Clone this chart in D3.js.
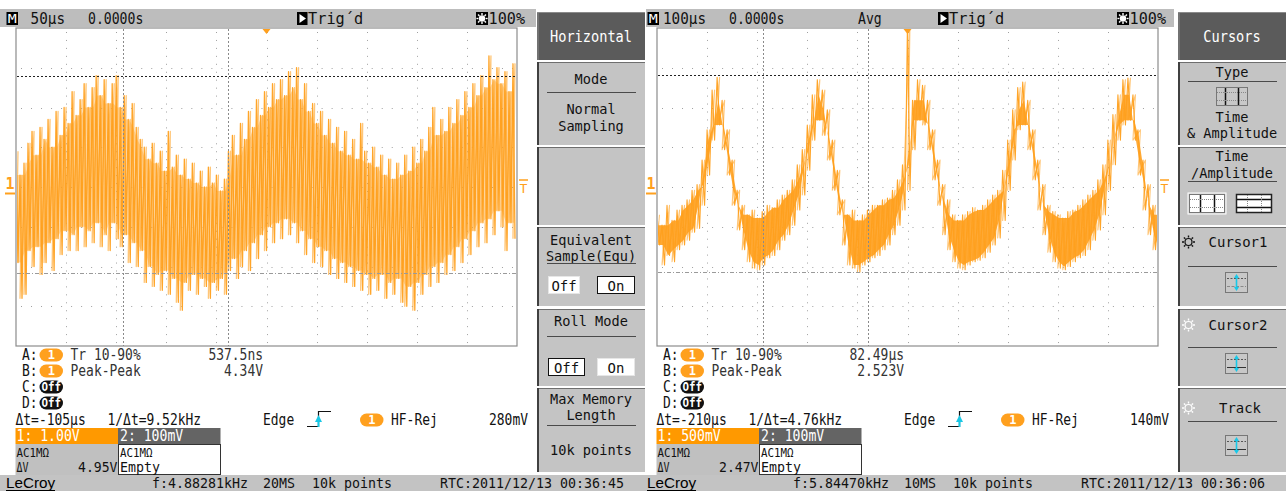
<!DOCTYPE html>
<html>
<head>
<meta charset="utf-8">
<script src="https://cdn.jsdelivr.net/npm/d3@7"></script>
<style>
  html, body { margin: 0; padding: 0; background: #fff; overflow: hidden; }
  svg { display: block; }
</style>
</head>
<body>
<svg id="chart" width="1286" height="491"></svg>
<script>
// CH1 left screen: upper / lower spike of each 4 µs bin, volts (1 V/div)
const leftHi = [0.9,0.3,0.6,1.1,1.4,0.8,1.5,1.2,1.7,1.0, 1.9,1.3,2.0,1.6,2.4,1.8,2.2,2.6,2.0,2.5,
  2.8,2.3,2.7,2.1,2.6,2.8,2.0,2.3,1.7,2.1, 1.5,1.2,1.0,0.7,1.1,0.6,0.9,0.4,1.4,0.5,
  0.8,0.3,0.7,0.2,0.6,0.1,0.4,0.0,0.5,0.1, 0.3,-0.1,0.2,0.9,1.3,0.8,1.6,1.2,1.9,1.5,
  2.2,1.8,2.4,2.0,2.6,2.2,2.7,2.3,2.9,2.5, 3.0,2.2,2.6,1.9,2.1,1.6,1.9,1.3,1.7,1.1,
  1.5,0.9,1.4,0.8,1.2,0.7,1.6,0.9,0.6,1.0, 0.5,0.8,0.3,0.7,0.2,0.6,0.3,0.8,0.4,1.0,
  0.6,1.2,0.9,1.5,2.0,1.3,1.7,1.4,2.0,1.6, 2.2,1.8,2.4,2.0,2.6,2.3,2.8,2.5,3.3,2.7,
  3.0,2.6,2.9,2.4,3.1];
const leftLo = [-1.9,-2.8,-2.7,-1.6,-2.0,-1.5,-2.2,-1.9,-1.4,-2.1, -1.3,-1.7,-1.1,-1.6,-1.2,-1.6,-1.0,-1.5,-1.1,-1.4,
  -0.9,-1.5,-1.2,-1.6,-0.9,-1.3,-1.5,-1.2,-1.9,-1.4, -2.0,-1.6,-2.4,-2.0,-2.5,-2.2,-2.6,-2.1,-2.7,-2.3,
  -2.9,-3.1,-2.4,-2.6,-2.2,-2.7,-2.3,-2.5,-2.8,-2.4, -2.6,-2.3,-2.7,-2.1,-1.8,-2.3,-2.0,-1.6,-2.1,-1.4,
  -1.8,-1.2,-1.6,-1.0,-1.4,-0.9,-1.3,-0.8,-1.2,-0.9, -1.4,-1.1,-1.7,-1.3,-1.9,-1.5,-2.0,-1.6,-2.2,-1.8,
  -2.3,-1.9,-2.4,-2.0,-2.5,-2.1,-2.6,-2.2,-2.7,-2.3, -2.6,-2.2,-2.8,-2.4,-2.7,-2.3,-2.9,-3.0,-2.5,-3.1,
  -2.4,-2.7,-2.2,-2.5,-2.0,-2.4,-1.9,-2.2,-1.7,-2.1, -1.5,-1.9,-1.3,-1.7,-1.1,-1.5,-0.9,-1.4,-0.8,-1.2,
  -0.6,-1.0,-1.6,-0.9,-1.3];

// CH1 right screen: upper / lower edge of each 10 µs bin, volts (500 mV/div)
const rightHi = [-0.35,-0.48,-0.23,-0.42,-0.29,-0.23,-0.16,-0.04,0.03,0.34, 0.72,1.22,1.38,1.09,0.72,0.34,-0.04,-0.23,-0.35,-0.29,
  -0.39,-0.31,-0.23,-0.26,-0.16,-0.10,-0.04,0.09,0.28,0.47, 0.78,1.16,1.35,1.22,0.97,0.59,0.21,-0.16,-0.35,-0.29,
  -0.42,-0.35,-0.29,-0.23,-0.23,-0.16,-0.14,-0.04,0.09,0.28, 2.1,1.09,1.35,1.28,1.09,0.72,0.34,0.03,-0.16,-0.35,
  -0.42,-0.35,-0.31,-0.26,-0.29,-0.23,-0.16,-0.10,-0.04,0.21, 0.59,0.97,1.25,1.32,1.09,0.72,0.34,0.03,-0.23,-0.31,
  -0.35,-0.39,-0.31,-0.29,-0.23,-0.16,-0.10,-0.04,0.09,0.28, 0.59,0.91,1.16,1.35,1.37,1.16,0.72,0.34,0.03,-0.23,
  -0.35];
const rightLo = [-0.73,-0.98,-0.86,-0.94,-0.79,-0.73,-0.67,-0.57,-0.52,-0.23, 0.15,0.59,0.78,0.47,0.15,-0.23,-0.54,-0.79,-0.94,-1.02,
  -1.04,-0.98,-0.89,-0.86,-0.79,-0.67,-0.60,-0.48,-0.29,-0.10, 0.21,0.59,0.84,0.65,0.34,-0.04,-0.35,-0.73,-0.98,-1.02,
  -1.07,-0.98,-0.94,-0.89,-0.86,-0.79,-0.73,-0.60,-0.48,-0.29, -0.04,0.47,0.84,0.78,0.47,0.09,-0.23,-0.60,-0.79,-0.94,
  -1.02,-1.04,-0.98,-0.94,-0.92,-0.89,-0.82,-0.73,-0.64,-0.42, -0.04,0.34,0.72,0.78,0.47,0.09,-0.29,-0.60,-0.82,-0.94,
  -1.02,-1.04,-1.00,-0.94,-0.89,-0.86,-0.79,-0.67,-0.54,-0.35, -0.04,0.28,0.59,0.78,0.84,0.59,0.15,-0.29,-0.60,-0.79,
  -0.92];

// timebase / scale per screen
const tDiv = [50, 100];          // µs per division
const vDiv = [1, 0.5];           // V per division
const binT = [4, 10];            // µs per data bin
const vCursorT = [[-143, -38], [-288, -78]];   // µs
const hCursorV = [[2.79, -2.16], [1.41, -1.07]]; // V

// screen texts
const tbDiv = ["50µs", "100µs"];
const tbDelay = ["0.0000s", "0.0000s"];
const acqMode = ["", "Avg"];
const measLabel = ["Tr 10-90%", "Peak-Peak"];
const measVal = [["537.5ns", "4.34V"], ["82.49µs", "2.523V"]];
const deltaT = ["Δt=-105µs", "Δt=-210µs"];
const invDeltaT = ["1/Δt=9.52kHz", "1/Δt=4.76kHz"];
const trigLevel = ["280mV", "140mV"];
const ch1Scale = ["1: 1.00V", "1: 500mV"];
const deltaV = ["4.95V", "2.47V"];
const freq = ["f:4.88281kHz", "f:5.84470kHz"];
const sampleRate = ["20MS", "10MS"];
const rtc = ["RTC:2011/12/13 00:36:45", "RTC:2011/12/13 00:36:06"];

// ---------- drawing ----------
const ORANGE = "#ffa01e";
const svg = d3.select("#chart");
const screenX = [0, 641];
const barStart = [0, 5], barEnd = [536, 533];
const P = { x0: 16, x1: 517, y0: 28, y1: 346 };

function txt(g, x, y, s, o = {}) {
  const t = g.append("text")
    .attr("x", x).attr("y", y)
    .attr("font-family", o.family || "'DejaVu Sans Mono', monospace")
    .attr("font-size", o.size || 15)
    .attr("font-weight", o.weight || "normal")
    .attr("fill", o.fill || "#111")
    .attr("text-anchor", o.anchor || "start")
    .attr("dominant-baseline", "central")
    .text(s);
  const w = o.w === undefined ? 7.8 : o.w;
  if (w) t.attr("textLength", s.length * w).attr("lengthAdjust", "spacingAndGlyphs");
  return t;
}

function sun(g, cx, cy, r, col, fill) {
  g.append("circle").attr("cx", cx).attr("cy", cy).attr("r", r)
    .attr("fill", fill).attr("stroke", col).attr("stroke-width", 1.2);
  for (let a = 0; a < 8; a++) {
    const an = a * Math.PI / 4;
    g.append("line")
      .attr("x1", cx + Math.cos(an) * (r + 1)).attr("y1", cy + Math.sin(an) * (r + 1))
      .attr("x2", cx + Math.cos(an) * (r + 3)).attr("y2", cy + Math.sin(an) * (r + 3))
      .attr("stroke", col).attr("stroke-width", 1.4);
  }
}

function pill(g, x, cy, fill, label) {
  g.append("rect").attr("x", x).attr("y", cy - 6.5).attr("width", 23.5).attr("height", 13)
    .attr("rx", 6.5).attr("fill", fill);
  txt(g, x + 11.75, cy, label, { fill: "#fff", size: 12, weight: "bold", anchor: "middle", w: label.length > 1 ? 6.5 : 0 });
}

function drawScreen(k) {
  const g = svg.append("g").attr("transform", `translate(${screenX[k]},0)`);

  // top status bar
  g.append("rect").attr("x", barStart[k]).attr("y", 9).attr("width", barEnd[k] - barStart[k])
    .attr("height", 18).attr("fill", "#bdbdbd");
  g.append("rect").attr("x", 6.5).attr("y", 12).attr("width", 11.5).attr("height", 13).attr("fill", "#000");
  txt(g, 12.3, 18.5, "M", { fill: "#fff", size: 13, anchor: "middle", w: 9 });
  txt(g, 65, 18, tbDiv[k], { size: 16, anchor: "end", w: 8.6 });
  txt(g, 88, 18, tbDelay[k], { size: 16, w: 7.9 });
  if (acqMode[k]) txt(g, 217, 18, acqMode[k], { size: 16, w: 7.9 });
  g.append("rect").attr("x", 297).attr("y", 12).attr("width", 10.5).attr("height", 13).attr("fill", "#000");
  g.append("path").attr("d", "M299.5,14 L306,18.5 L299.5,23 Z").attr("fill", "#fff");
  txt(g, 308, 18, "Trig´d", { size: 16, w: 9.2 });
  g.append("rect").attr("x", 476).attr("y", 12).attr("width", 12).attr("height", 13).attr("fill", "#000");
  sun(g, 482, 18.5, 2.6, "#fff", "#fff");
  txt(g, 525, 18, "100%", { size: 16, anchor: "end", w: 9.1 });

  // plot area
  const x = d3.scaleLinear().domain([-5 * tDiv[k], 5 * tDiv[k]]).range([P.x0, P.x1]);
  const y = d3.scaleLinear().domain([-4 * vDiv[k], 4 * vDiv[k]]).range([P.y1, P.y0]);

  g.append("rect").attr("x", P.x0).attr("y", P.y0).attr("width", P.x1 - P.x0).attr("height", P.y1 - P.y0)
    .attr("fill", "#fff").attr("stroke", "#8c8c8c").attr("stroke-width", 1.2);

  // dotted graticule
  const grid = g.append("g").attr("stroke", "#a0a0a0").attr("stroke-width", 1);
  d3.range(-4, 5).forEach(d => {
    const xx = Math.round(x(d * tDiv[k])) + 0.5;
    grid.append("line").attr("x1", xx).attr("x2", xx).attr("y1", P.y0 + 4).attr("y2", P.y1)
      .attr("stroke-dasharray", "1,6.95");
  });
  d3.range(-3, 4).forEach(d => {
    const yy = Math.round(y(d * vDiv[k])) + 0.5;
    grid.append("line").attr("x1", P.x0 + 5).attr("x2", P.x1).attr("y1", yy).attr("y2", yy)
      .attr("stroke-dasharray", "1,9.02");
  });

  // trace: a dense core between neighbouring readings, then the spikes themselves
  const clipId = "clip" + k;
  g.append("clipPath").attr("id", clipId).append("rect")
    .attr("x", P.x0 + 1).attr("y", P.y0 + 1).attr("width", P.x1 - P.x0 - 2).attr("height", P.y1 - P.y0 - 2);
  const hi = k === 0 ? leftHi : rightHi, lo = k === 0 ? leftLo : rightLo;
  const t0 = -5 * tDiv[k], half = binT[k] / 2;
  const tr = g.append("g").attr("clip-path", `url(#${clipId})`);

  const core = hi.map((h, i) => {
    const a = Math.max(0, i - 1), b = Math.min(hi.length, i + 2);
    return { t: t0 + i * binT[k] + half / 2, top: d3.min(hi.slice(a, b)), bot: d3.max(lo.slice(a, b)) };
  });
  const area = d3.area().x(d => x(d.t)).y0(d => y(d.bot)).y1(d => y(d.top));
  tr.append("path").datum(core).attr("d", area).attr("fill", ORANGE).attr("opacity", k === 0 ? 0.4 : 0.9);

  const ptsA = [], ptsB = [];
  hi.forEach((h, i) => {
    const t = t0 + i * binT[k];
    ptsA.push([t, h], [t + half, lo[i]]);
    ptsB.push([t + half, h], [t, lo[i]]);
  });
  const line = d3.line().x(d => x(d[0])).y(d => y(d[1]));
  [ptsA, ptsB].forEach((pts, j) => {
    tr.append("path").datum(pts).attr("d", line)
      .attr("fill", "none").attr("stroke", ORANGE).attr("stroke-width", k === 0 ? 1.3 : 1.1)
      .attr("stroke-linejoin", "round").attr("opacity", j ? 0.6 : 0.95);
  });

  // cursors
  vCursorT[k].forEach(t => {
    const xx = Math.round(x(t)) + 0.5;
    g.append("line").attr("x1", xx).attr("x2", xx).attr("y1", P.y0 + 1).attr("y2", P.y1)
      .attr("stroke", "#8a8a8a").attr("stroke-width", 1).attr("stroke-dasharray", "2,2");
  });
  const hc = hCursorV[k];
  const yA = Math.round(y(hc[0])) + 0.5, yB = Math.round(y(hc[1])) + 0.5;
  g.append("line").attr("x1", P.x0 + 1).attr("x2", P.x1).attr("y1", yA).attr("y2", yA)
    .attr("stroke", "#222").attr("stroke-width", 1).attr("stroke-dasharray", "2,2");
  g.append("line").attr("x1", P.x0 + 1).attr("x2", P.x1).attr("y1", yB).attr("y2", yB)
    .attr("stroke", "#9a9a9a").attr("stroke-width", 1.2).attr("stroke-dasharray", "4,2,1,2");

  // markers
  const xt = x(0);
  g.append("path").attr("d", `M${xt - 4},29 L${xt + 4},29 L${xt},34 Z`).attr("fill", ORANGE);
  txt(g, 10, 184, "1", { fill: ORANGE, size: 15, weight: "bold", anchor: "middle", w: 0 });
  g.append("line").attr("x1", 5).attr("x2", 15).attr("y1", 193.5).attr("y2", 193.5).attr("stroke", ORANGE).attr("stroke-width", 2);
  g.append("line").attr("x1", 519).attr("x2", 528).attr("y1", 180).attr("y2", 180).attr("stroke", ORANGE).attr("stroke-width", 1.5);
  txt(g, 523.5, 188, "T", { fill: ORANGE, size: 13, anchor: "middle", w: 0 });

  // measurements
  const rows = [355, 371, 387, 403];
  ["A:", "B:"].forEach((lab, i) => {
    txt(g, 22, rows[i], lab);
    pill(g, 39.5, rows[i], ORANGE, "1");
    txt(g, 70.5, rows[i], measLabel[i], { fill: "#333" });
    txt(g, 263, rows[i], measVal[k][i], { anchor: "end", fill: "#333" });
  });
  ["C:", "D:"].forEach((lab, i) => {
    txt(g, 22, rows[i + 2], lab);
    pill(g, 39.5, rows[i + 2], "#111", "Off");
  });
  const rY = 420;
  txt(g, 15.5, rY, deltaT[k]);
  txt(g, 107.5, rY, invDeltaT[k]);
  txt(g, 263, rY, "Edge");
  g.append("path").attr("d", "M307,426.5 H318.5 V411.5 H331").attr("fill", "none").attr("stroke", "#111").attr("stroke-width", 1.2);
  g.append("path").attr("d", "M315,422 L322,422 L318.5,415 Z").attr("fill", "#19c8e6");
  g.append("line").attr("x1", 318.5).attr("x2", 318.5).attr("y1", 419).attr("y2", 427).attr("stroke", "#19c8e6").attr("stroke-width", 2);
  pill(g, 360, rY, ORANGE, "1");
  txt(g, 391, rY, "HF-Rej");
  txt(g, 528, rY, trigLevel[k], { anchor: "end" });

  // channel boxes
  g.append("rect").attr("x", 15.5).attr("y", 428).attr("width", 102.5).attr("height", 16).attr("fill", "#ff9900");
  g.append("rect").attr("x", 118).attr("y", 428).attr("width", 102.5).attr("height", 16).attr("fill", "#646464");
  g.append("rect").attr("x", 15.5).attr("y", 444).attr("width", 102.5).attr("height", 31).attr("fill", "#c0c0c0");
  g.append("rect").attr("x", 118.5).attr("y", 444.5).attr("width", 102).attr("height", 30).attr("fill", "#fff")
    .attr("stroke", "#333").attr("stroke-width", 1);
  txt(g, 16.5, 436, ch1Scale[k], { fill: "#fff", size: 15, w: 7.9 });
  txt(g, 120, 436, "2: 100mV", { fill: "#fff", size: 15, w: 7.9 });
  txt(g, 16.5, 452, "AC1MΩ", { size: 13, w: 6.5 });
  txt(g, 16.5, 466.5, "ΔV", { size: 14, w: 6 });
  txt(g, 117.5, 466.5, deltaV[k], { anchor: "end", size: 14, w: 7.9 });
  txt(g, 120, 452, "AC1MΩ", { size: 13, w: 6.5 });
  txt(g, 120, 466.5, "Empty", { size: 14, w: 8 });

  // bottom status bar
  g.append("rect").attr("x", 0).attr("y", 475).attr("width", 645).attr("height", 16).attr("fill", "#c3c3c3");
  txt(g, 6, 482.5, "LeCroy", { family: "'Liberation Sans', Arial, sans-serif", size: 15, w: 8.2, fill: "#000" });
  g.append("line").attr("x1", 6).attr("x2", 55).attr("y1", 490.5).attr("y2", 490.5).attr("stroke", "#000");
  txt(g, 152, 482.5, freq[k], { size: 14, w: 8 });
  txt(g, 263, 482.5, sampleRate[k], { size: 14, w: 8 });
  txt(g, 312, 482.5, "10k points", { size: 14, w: 8 });
  txt(g, 440, 482.5, rtc[k], { size: 14, w: 8 });

  return g;
}

function panelBox(g, y0, y1) {
  g.append("rect").attr("x", 537).attr("y", y0).attr("width", 108).attr("height", y1 - y0).attr("fill", "#c4c4c4");
  g.append("line").attr("x1", 537).attr("x2", 645).attr("y1", y0 + 0.5).attr("y2", y0 + 0.5).attr("stroke", "#6e6e6e");
  g.append("line").attr("x1", 538).attr("x2", 538).attr("y1", y0).attr("y2", y1).attr("stroke", "#404040").attr("stroke-width", 2);
}
function rule(g, yy) {
  g.append("line").attr("x1", 547).attr("x2", 636).attr("y1", yy + 0.5).attr("y2", yy + 0.5).attr("stroke", "#4a4a4a");
}
function header(g, label) {
  g.append("rect").attr("x", 537).attr("y", 12).attr("width", 108).attr("height", 48).attr("fill", "#5b5b5b");
  g.append("line").attr("x1", 537).attr("x2", 645).attr("y1", 12.5).attr("y2", 12.5).attr("stroke", "#8a8a8a");
  g.append("line").attr("x1", 538).attr("x2", 538).attr("y1", 12).attr("y2", 60).attr("stroke", "#8a8a8a");
  txt(g, 591, 37, label, { fill: "#fff", size: 15, anchor: "middle", w: 8.2 });
}
function ptxt(g, x, y, s, w) {
  return txt(g, x, y, s, { size: 14, anchor: "middle", w: w || 8.2 });
}
function button(g, x0, x1, y0, label, sel) {
  g.append("rect").attr("x", x0 + 0.5).attr("y", y0 + 0.5).attr("width", x1 - x0).attr("height", 17)
    .attr("fill", "#fff").attr("stroke", sel ? "#111" : "#e6e6e6").attr("stroke-width", 1);
  txt(g, (x0 + x1) / 2 + 0.5, y0 + 9.5, label, { size: 14, anchor: "middle", w: 8.4 });
}
function cursorIcon(g, x0, y0, topSolid, botSolid) {
  g.append("rect").attr("x", x0 + 0.5).attr("y", y0 + 0.5).attr("width", 22).attr("height", 20)
    .attr("fill", "#c8c8c8").attr("stroke", "#777");
  g.append("line").attr("x1", x0 + 2).attr("x2", x0 + 21).attr("y1", y0 + 6.5).attr("y2", y0 + 6.5)
    .attr("stroke", topSolid ? "#333" : "#555").attr("stroke-dasharray", topSolid ? null : "2,1.5");
  g.append("line").attr("x1", x0 + 2).attr("x2", x0 + 21).attr("y1", y0 + 14.5).attr("y2", y0 + 14.5)
    .attr("stroke", botSolid ? "#333" : "#888").attr("stroke-dasharray", botSolid ? null : "3,1.5");
  const cx = x0 + 11.5;
  g.append("line").attr("x1", cx).attr("x2", cx).attr("y1", y0 + 4).attr("y2", y0 + 17).attr("stroke", "#18c8e8").attr("stroke-width", 1.6);
  g.append("path").attr("d", `M${cx - 2.5},${y0 + 6} L${cx + 2.5},${y0 + 6} L${cx},${y0 + 2} Z M${cx - 2.5},${y0 + 15} L${cx + 2.5},${y0 + 15} L${cx},${y0 + 19} Z`).attr("fill", "#18c8e8");
}
function gridIcon(g, x0, y0, w, h, vert, frame) {
  g.append("rect").attr("x", x0 + 0.5).attr("y", y0 + 0.5).attr("width", w).attr("height", h)
    .attr("fill", frame === "grey" ? "#c8c8c8" : "#fff").attr("stroke", frame === "bold" ? "#222" : "#777")
    .attr("stroke-width", frame === "bold" ? 1.5 : 1);
  if (frame === "white") g.append("rect").attr("x", x0 - 1).attr("y", y0 - 1).attr("width", w + 3).attr("height", h + 3)
    .attr("fill", "none").attr("stroke", "#fff");
  [0.3, 0.7].forEach(f => {
    const xx = Math.round(x0 + w * f) + 0.5, yy = Math.round(y0 + h * f) + 0.5;
    g.append("line").attr("x1", xx).attr("x2", xx).attr("y1", y0 + 1).attr("y2", y0 + h)
      .attr("stroke", vert ? "#111" : "#888").attr("stroke-width", vert ? 1.5 : 1).attr("stroke-dasharray", vert ? null : "1,1");
    g.append("line").attr("x1", x0 + 1).attr("x2", x0 + w).attr("y1", yy).attr("y2", yy)
      .attr("stroke", vert ? "#888" : "#111").attr("stroke-width", vert ? 1 : 1.5).attr("stroke-dasharray", vert ? "1,1" : null);
  });
}

// left screen (Horizontal menu)
const gL = drawScreen(0);
header(gL, "Horizontal");
panelBox(gL, 62, 145);
ptxt(gL, 591, 78.5, "Mode");
rule(gL, 92);
ptxt(gL, 591, 109, "Normal");
ptxt(gL, 591, 125.5, "Sampling");
panelBox(gL, 147, 225);
panelBox(gL, 227, 306);
ptxt(gL, 591, 239.5, "Equivalent");
ptxt(gL, 591, 255.5, "Sample(Equ)");
rule(gL, 263);
button(gL, 548, 579, 276, "Off", false);
button(gL, 597, 634, 276, "On", true);
panelBox(gL, 309, 386);
ptxt(gL, 591, 321, "Roll Mode");
rule(gL, 336);
button(gL, 548, 584, 358, "Off", true);
button(gL, 597, 634, 358, "On", false);
panelBox(gL, 388, 472);
ptxt(gL, 591, 399, "Max Memory");
ptxt(gL, 591, 415, "Length");
rule(gL, 425);
ptxt(gL, 591, 450, "10k points");

// right screen (Cursors menu)
const gR = drawScreen(1);
header(gR, "Cursors");
panelBox(gR, 62, 145);
ptxt(gR, 591, 72, "Type");
rule(gR, 81);
gridIcon(gR, 575, 87, 31, 18, true, "grey");
ptxt(gR, 591, 117, "Time");
ptxt(gR, 591, 133, "& Amplitude");
panelBox(gR, 147, 225);
ptxt(gR, 591, 156, "Time");
ptxt(gR, 591, 172.5, "/Amplitude");
rule(gR, 181);
gridIcon(gR, 548, 194, 35, 18, true, "white");
gridIcon(gR, 595, 194, 35, 18, false, "bold");
panelBox(gR, 227, 306);
sun(gR, 547.5, 242, 3.5, "#111", "none");
ptxt(gR, 597, 242, "Cursor1", 8.4);
rule(gR, 266);
cursorIcon(gR, 584, 272, false, false);
panelBox(gR, 309, 386);
sun(gR, 547.5, 325, 3.5, "#fff", "none");
ptxt(gR, 597, 325, "Cursor2", 8.4);
rule(gR, 347);
cursorIcon(gR, 584, 353, false, true);
panelBox(gR, 388, 472);
sun(gR, 547.5, 408, 3.5, "#fff", "none");
ptxt(gR, 599, 408, "Track", 8.4);
rule(gR, 421);
cursorIcon(gR, 584, 435, false, true);
</script>
</body>
</html>
